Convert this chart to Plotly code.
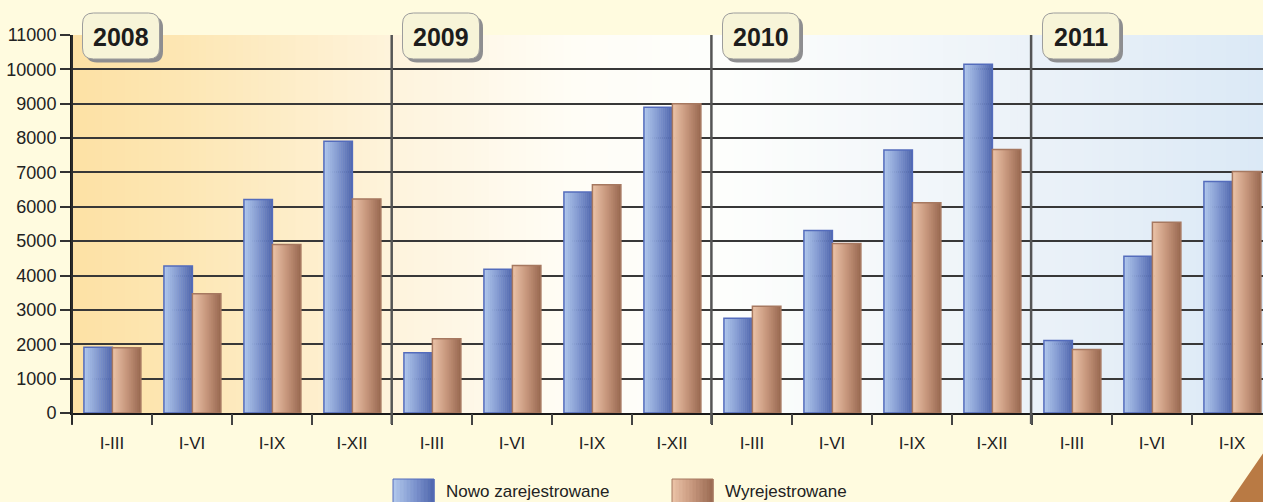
import plotly.graph_objects as go

# ---------------- data ----------------
years = ["2008", "2009", "2010", "2011"]
periods = ["I-III", "I-VI", "I-IX", "I-XII"]
nowo_zarejestrowane = [1910, 4280, 6210, 7910,
                       1750, 4180, 6430, 8900,
                       2760, 5310, 7650, 10150,
                       2110, 4560, 6740]
wyrejestrowane = [1900, 3470, 4900, 6230,
                  2160, 4290, 6640, 9000,
                  3110, 4930, 6120, 7670,
                  1850, 5550, 7030]
tick_labels = [periods[i % 4] for i in range(len(nowo_zarejestrowane))]
legend_names = ["Nowo zarejestrowane", "Wyrejestrowane"]
y_ticks = list(range(0, 11001, 1000))
y_tick_text = [str(v) for v in y_ticks]

# ---------------- geometry ----------------
W, H = 1263, 502
L, T, B = 72, 35, 413          # plot left, top, bottom (pixels)
PW, PH = W - L, B - T
CAT_PX = 80.0
x_max = PW / CAT_PX - 0.5
FONT = "Liberation Sans Narrow, Arial Narrow, Liberation Sans, Arial, sans-serif"

def px(xp):
    return (xp - L) / PW

def py(yp):
    return (B - yp) / PH

def lerp(c0, c1, t):
    return tuple(round(c0[k] + (c1[k] - c0[k]) * t) for k in range(3))

def grad(stops, t):
    for (t0, c0), (t1, c1) in zip(stops, stops[1:]):
        if t <= t1:
            return lerp(c0, c1, (t - t0) / (t1 - t0) if t1 > t0 else 0)
    return stops[-1][1]

def rgb(c):
    return "rgb(%d,%d,%d)" % c

fig = go.Figure()
xs = list(range(len(nowo_zarejestrowane)))

BW = 0.356
NS = 14
blue_stops = [(0, (178, 201, 236)), (0.5, (128, 151, 208)), (1, (78, 101, 172))]
brown_stops = [(0, (236, 196, 168)), (0.5, (198, 150, 124)), (1, (152, 104, 80))]

series = [
    (nowo_zarejestrowane, -BW + 0.005, blue_stops, "rgb(84,108,188)"),
    (wyrejestrowane, 0.005, brown_stops, "rgb(166,120,96)"),
]
for vals, off, stops, edge in series:
    xv = xs[:len(vals)]
    sw = BW / NS
    for i in range(NS):
        t = (i + 0.5) / NS
        w = sw * 1.25 if i < NS - 1 else sw
        fig.add_trace(go.Bar(
            x=xv, y=vals, width=w, offset=off + i * sw,
            marker=dict(color=rgb(grad(stops, t)), line=dict(width=0)),
            showlegend=False, hoverinfo="skip"))
    fig.add_trace(go.Bar(
        x=xv, y=vals, width=BW, offset=off,
        marker=dict(color="rgba(0,0,0,0)", line=dict(color=edge, width=1.5)),
        showlegend=False, hoverinfo="skip"))

shapes = []
# plot background gradient
bg_stops = [(0.00, (253, 225, 164)), (0.10, (253, 231, 181)), (0.28, (254, 244, 222)),
            (0.42, (255, 253, 246)), (0.55, (253, 254, 252)), (0.70, (243, 247, 250)),
            (0.82, (234, 241, 248)), (1.00, (219, 233, 246))]
NB = 160
for i in range(NB):
    t0, t1 = i / NB, (i + 1) / NB
    shapes.append(dict(type="rect", xref="paper", yref="paper", x0=t0, x1=min(1, t1 + 0.002),
                       y0=0, y1=1, fillcolor=rgb(grad(bg_stops, (t0 + t1) / 2)),
                       line=dict(width=0), layer="below"))

# year separators & left axis line extension
n_years = len(years)
for k in range(n_years):
    xb = L + k * 4 * CAT_PX - 0.3 * k
    shapes.append(dict(type="line", xref="paper", yref="paper",
                       x0=px(xb), x1=px(xb), y0=py(T), y1=py(B + 11),
                       line=dict(color="#2a2a2a" if k == 0 else "#555555",
                                 width=2 if k == 0 else 2.5), layer="above"))

def rrect(x0, y0, x1, y1, r):
    pts = [("M", [(x0 + r, y0)]), ("L", [(x1 - r, y0)]), ("Q", [(x1, y0), (x1, y0 + r)]),
           ("L", [(x1, y1 - r)]), ("Q", [(x1, y1), (x1 - r, y1)]), ("L", [(x0 + r, y1)]),
           ("Q", [(x0, y1), (x0, y1 - r)]), ("L", [(x0, y0 + r)]),
           ("Q", [(x0, y0), (x0 + r, y0)])]
    s = ""
    for cmd, ps in pts:
        s += cmd + " " + " ".join("%.5f,%.5f" % (px(a), py(b)) for a, b in ps) + " "
    return s + "Z"

annotations = []
for k, yr in enumerate(years):
    bx0 = L + k * 4 * CAT_PX + 10.5
    bx1 = bx0 + 77
    shapes.append(dict(type="path", xref="paper", yref="paper",
                       path=rrect(bx0 + 3.5, 16.5, bx1 + 3.5, 62.5, 11),
                       fillcolor="#8e8e90", line=dict(width=0), layer="above"))
    shapes.append(dict(type="path", xref="paper", yref="paper",
                       path=rrect(bx0, 13, bx1, 59, 11),
                       fillcolor="#f7f4d8", line=dict(color="#9c9c9c", width=1), layer="above"))
    annotations.append(dict(xref="paper", yref="paper", x=px((bx0 + bx1) / 2), y=py(37),
                            text="<b>%s</b>" % yr, showarrow=False,
                            font=dict(family=FONT, size=25, color="#1c1c1c"),
                            xanchor="center", yanchor="middle"))

# legend (manual)
leg = [(393, legend_names[0], blue_stops, "rgb(84,108,188)"),
       (672, legend_names[1], brown_stops, "rgb(166,120,96)")]
for x0, name, stops, edge in leg:
    n = 12
    for i in range(n):
        a = x0 + 41 * i / n
        shapes.append(dict(type="rect", xref="paper", yref="paper",
                           x0=px(a), x1=px(a + 41 / n + 0.6), y0=py(506), y1=py(479),
                           fillcolor=rgb(grad(stops, (i + 0.5) / n)), line=dict(width=0)))
    shapes.append(dict(type="rect", xref="paper", yref="paper",
                       x0=px(x0), x1=px(x0 + 41), y0=py(506), y1=py(479),
                       fillcolor="rgba(0,0,0,0)", line=dict(color=edge, width=1)))
    annotations.append(dict(xref="paper", yref="paper", x=px(x0 + 51), y=py(491),
                            text=name, showarrow=False, xanchor="left", yanchor="middle",
                            font=dict(family=FONT, size=17, color="#222222")))

# corner decoration
cp = [(1229, 503), (1246, 478), (1264, 452)]
shapes.append(dict(type="path", xref="paper", yref="paper",
                   path="M %.5f,%.5f Q %.5f,%.5f %.5f,%.5f L %.5f,%.5f Z" % (
                       px(cp[0][0]), py(cp[0][1]), px(cp[1][0]), py(cp[1][1]),
                       px(cp[2][0]), py(cp[2][1]), px(1264), py(503)),
                   fillcolor="#b97a44", line=dict(width=0)))

fig.update_layout(
    width=W, height=H,
    margin=dict(l=L, r=0, t=T, b=H - B, pad=0),
    paper_bgcolor="#fffbdf", plot_bgcolor="rgba(0,0,0,0)",
    barmode="overlay", showlegend=False,
    shapes=shapes, annotations=annotations,
    xaxis=dict(range=[-0.5, x_max], tickmode="array", tickvals=xs, ticktext=tick_labels,
               ticks="outside", ticklen=14, tickcolor="rgba(0,0,0,0)",
               tickfont=dict(family=FONT, size=17, color="#222222"),
               showgrid=False, zeroline=False, showline=True, linecolor="#1a1a1a",
               linewidth=2, fixedrange=True),
    xaxis2=dict(overlaying="x", matches="x", range=[-0.5, x_max], tickmode="array",
                tickvals=[i - 0.5 for i in range(len(xs) + 1)], ticks="outside",
                ticklen=11, tickwidth=2, tickcolor="#444444", showticklabels=False,
                showgrid=False, zeroline=False, side="bottom", anchor="y"),
    yaxis=dict(range=[0, 11000], tickmode="array", tickvals=y_ticks, ticktext=y_tick_text,
               ticks="outside", ticklen=10, tickwidth=2, tickcolor="#333333",
               tickfont=dict(family=FONT, size=18, color="#222222"),
               showgrid=True, gridcolor="#383838", gridwidth=1.5,
               zeroline=False, showline=True, linecolor="#1a1a1a", linewidth=2,
               fixedrange=True),
)
# invisible trace to activate xaxis2
fig.add_trace(go.Scatter(x=[0], y=[0], xaxis="x2", mode="markers",
                         marker=dict(opacity=0), showlegend=False, hoverinfo="skip"))

fig.write_html("out.html", config={"displayModeBar": False},
               post_script="document.body.style.margin='0px';document.body.style.overflow='hidden';")
